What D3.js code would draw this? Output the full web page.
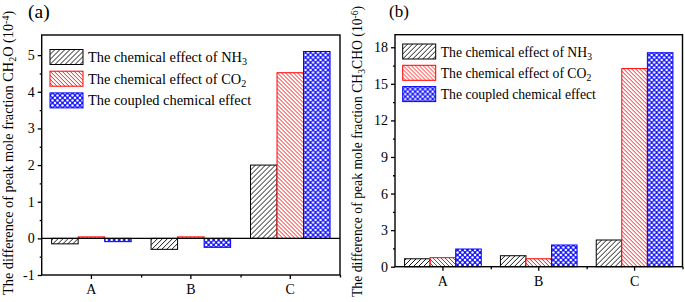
<!DOCTYPE html>
<html>
<head>
<meta charset="utf-8">
<script src="https://cdn.jsdelivr.net/npm/d3@7"></script>
<style>
  body { margin: 0; background: #fff; }
  svg text { font-family: "Liberation Serif", "Times New Roman", "DejaVu Serif", serif; fill: #000; }
  .axis path, .axis line { stroke: #000; stroke-width: 1.3; }
  .axis text { font-size: 14px; }
</style>
</head>
<body>
<div id="chart"></div>
<script>
// data
const categories = ['A', 'B', 'C'];
const seriesNames = ['The chemical effect of NH3', 'The chemical effect of CO2', 'The coupled chemical effect'];

const ch2oNH3 = [-0.15, -0.30, 2.00];
const ch2oCO2 = [0.04, 0.04, 4.52];
const ch2oCoupled = [-0.09, -0.245, 5.10];

const ch3choNH3 = [0.65, 0.90, 2.19];
const ch3choCO2 = [0.74, 0.65, 16.25];
const ch3choCoupled = [1.45, 1.78, 17.55];

const ch2oTicks = [-1, 0, 1, 2, 3, 4, 5];
const ch3choTicks = [0, 3, 6, 9, 12, 15, 18];

const serif = '"Liberation Serif", "Times New Roman", "DejaVu Serif", serif';

const svg = d3.select('#chart').append('svg')
    .attr('width', 685)
    .attr('height', 302)
    .attr('font-family', serif);

// hatch patterns, roughly like the Origin fills
const defs = svg.append('defs');

const pBlack = defs.append('pattern')
    .attr('id', 'hatchBlack')
    .attr('patternUnits', 'userSpaceOnUse')
    .attr('width', 5).attr('height', 5);
pBlack.append('rect').attr('width', 5).attr('height', 5).attr('fill', '#fff');
pBlack.append('path')
    .attr('d', 'M-1,1 L1,-1 M0,5 L5,0 M4,6 L6,4')
    .attr('stroke', '#000').attr('stroke-width', 0.9);

const pRed = defs.append('pattern')
    .attr('id', 'hatchRed')
    .attr('patternUnits', 'userSpaceOnUse')
    .attr('width', 4).attr('height', 4);
pRed.append('rect').attr('width', 4).attr('height', 4).attr('fill', '#fff');
pRed.append('path')
    .attr('d', 'M-1,3 L1,5 M0,0 L4,4 M3,-1 L5,1')
    .attr('stroke', '#ff0000').attr('stroke-width', 0.9);

const pBlue = defs.append('pattern')
    .attr('id', 'hatchBlue')
    .attr('patternUnits', 'userSpaceOnUse')
    .attr('width', 5).attr('height', 5);
pBlue.append('rect').attr('width', 5).attr('height', 5).attr('fill', '#1010ff');
[[0, 0], [5, 0], [0, 5], [5, 5], [2.5, 2.5]].forEach(([cx, cy]) => {
    pBlue.append('circle').attr('cx', cx).attr('cy', cy).attr('r', 1.3).attr('fill', '#fff');
});

const seriesFill = ['url(#hatchBlack)', 'url(#hatchRed)', 'url(#hatchBlue)'];
const seriesStroke = ['#000', '#ff0000', '#0000ff'];

class GroupedBarChart {
    constructor(_config, _data) {
        this.config = {
            left: _config.left,
            right: _config.right,
            top: _config.top,
            bottom: _config.bottom,
            yDomain: _config.yDomain,
            yTicks: _config.yTicks,
            yMinor: _config.yMinor,
            zeroLine: _config.zeroLine || false,
            tag: _config.tag,
            tagPos: _config.tagPos,
            tagFont: _config.tagFont || 18,
            titleParts: _config.titleParts,
            titlePos: _config.titlePos,
            titleFont: _config.titleFont || 14,
            legendPos: _config.legendPos,
            legendStep: _config.legendStep || 21.5,
            legendFont: _config.legendFont || 14
        };
        this.data = _data;
        this.initVis();
        this.renderVis();
    }

    initVis() {
        let vis = this;
        const c = vis.config;

        vis.g = svg.append('g');

        vis.xScale = d3.scaleBand()
            .domain(categories)
            .range([c.left, c.right])
            .padding(0);

        vis.xSub = d3.scaleBand()
            .domain(d3.range(seriesNames.length))
            .range([vis.xScale.bandwidth() * 0.1, vis.xScale.bandwidth() * 0.9]);

        vis.xEdges = d3.scaleLinear()
            .domain([0, categories.length])
            .range([c.left, c.right]);

        vis.yScale = d3.scaleLinear()
            .domain(c.yDomain)
            .range([c.bottom, c.top]);
    }

    renderVis() {
        let vis = this;
        const c = vis.config;

        // bars
        const groups = vis.g.selectAll('.group')
            .data(categories)
            .join('g')
            .attr('class', 'group')
            .attr('transform', d => `translate(${vis.xScale(d)},0)`);

        groups.selectAll('rect')
            .data((d, i) => vis.data.map((s, k) => ({k: k, v: s[i]})))
            .join('rect')
            .attr('x', d => vis.xSub(d.k))
            .attr('width', vis.xSub.bandwidth())
            .attr('y', d => vis.yScale(Math.max(0, d.v)))
            .attr('height', d => Math.abs(vis.yScale(d.v) - vis.yScale(0)))
            .attr('fill', d => seriesFill[d.k])
            .attr('stroke', d => seriesStroke[d.k])
            .attr('stroke-width', 1);

        if (c.zeroLine) {
            vis.g.append('line')
                .attr('x1', c.left).attr('x2', c.right)
                .attr('y1', vis.yScale(0)).attr('y2', vis.yScale(0))
                .attr('stroke', '#000').attr('stroke-width', 1.3);
        }

        // frame
        vis.g.append('rect')
            .attr('x', c.left).attr('y', c.top)
            .attr('width', c.right - c.left).attr('height', c.bottom - c.top)
            .attr('fill', 'none').attr('stroke', '#000').attr('stroke-width', 1.4);

        // y axis, major + minor
        vis.g.append('g')
            .attr('class', 'axis')
            .attr('transform', `translate(${c.left},0)`)
            .call(d3.axisLeft(vis.yScale).tickValues(c.yTicks).tickFormat(d => String(d))
                .tickSize(4).tickPadding(3).tickSizeOuter(0))
            .call(g => g.select('.domain').remove())
            .call(g => g.selectAll('text').attr('font-family', serif));
        vis.g.append('g')
            .attr('class', 'axis')
            .attr('transform', `translate(${c.left},0)`)
            .call(d3.axisLeft(vis.yScale).tickValues(c.yMinor).tickSize(2).tickFormat(''))
            .call(g => g.select('.domain').remove());

        // x axis, major at centres, minor at group edges
        vis.g.append('g')
            .attr('class', 'axis')
            .attr('transform', `translate(0,${c.bottom})`)
            .call(d3.axisBottom(vis.xScale).tickSize(4).tickPadding(5).tickSizeOuter(0))
            .call(g => g.select('.domain').remove())
            .call(g => g.selectAll('text').attr('font-family', serif));
        vis.g.append('g')
            .attr('class', 'axis')
            .attr('transform', `translate(0,${c.bottom})`)
            .call(d3.axisBottom(vis.xEdges).tickValues([1, 2, 3]).tickSize(2.5).tickFormat(''))
            .call(g => g.select('.domain').remove());

        // panel tag
        vis.g.append('text')
            .attr('x', c.tagPos[0]).attr('y', c.tagPos[1])
            .attr('font-family', serif)
            .attr('font-size', c.tagFont)
            .text(c.tag);

        // y title with sub/superscripts
        const title = vis.g.append('text')
            .attr('transform', `translate(${c.titlePos[0]},${c.titlePos[1]}) rotate(-90)`)
            .attr('font-family', serif)
            .attr('font-size', c.titleFont);
        c.titleParts.forEach(p => {
            const t = title.append('tspan').text(p.t);
            if (p.sub) t.attr('baseline-shift', '-25%').attr('font-size', c.titleFont * 0.7);
            if (p.sup) t.attr('baseline-shift', '45%').attr('font-size', c.titleFont * 0.7);
        });

        // legend
        const lg = vis.g.append('g')
            .attr('transform', `translate(${c.legendPos[0]},${c.legendPos[1]})`);
        const rows = lg.selectAll('g')
            .data(seriesNames)
            .join('g')
            .attr('transform', (d, i) => `translate(0,${i * c.legendStep})`);
        rows.append('rect')
            .attr('width', 33).attr('height', 15)
            .attr('fill', (d, i) => seriesFill[i])
            .attr('stroke', (d, i) => seriesStroke[i])
            .attr('stroke-width', 1);
        rows.each(function(d) {
            const t = d3.select(this).append('text')
                .attr('x', 38).attr('y', 12.5)
                .attr('font-family', serif)
                .attr('font-size', c.legendFont);
            const m = d.match(/^(.*?)(\d)$/);
            if (m) {
                t.append('tspan').text(m[1]);
                t.append('tspan').text(m[2]).attr('baseline-shift', '-25%').attr('font-size', c.legendFont * 0.7);
            } else {
                t.text(d);
            }
        });
    }
}

new GroupedBarChart({
    left: 41.7, right: 340, top: 35, bottom: 275,
    yDomain: [-1, 5.55],
    yTicks: ch2oTicks,
    yMinor: [-0.5, 0.5, 1.5, 2.5, 3.5, 4.5],
    zeroLine: true,
    tag: '(a)',
    tagPos: [28, 18],
    tagFont: 19.5,
    titleParts: [{t: 'The difference of peak mole fraction CH'}, {t: '2', sub: true}, {t: 'O (10'}, {t: '-4', sup: true}, {t: ')'}],
    titlePos: [13, 295],
    titleFont: 14.3,
    legendPos: [50, 49.5],
    legendStep: 21.7,
    legendFont: 14.4
}, [ch2oNH3, ch2oCO2, ch2oCoupled]);

new GroupedBarChart({
    left: 395, right: 682.5, top: 34.7, bottom: 266.7,
    yDomain: [0, 19.03],
    yTicks: ch3choTicks,
    yMinor: [1.5, 4.5, 7.5, 10.5, 13.5, 16.5],
    tag: '(b)',
    tagPos: [389, 17],
    tagFont: 17,
    titleParts: [{t: 'The difference of peak mole fraction CH'}, {t: '3', sub: true}, {t: 'CHO (10'}, {t: '-6', sup: true}, {t: ')'}],
    titlePos: [362, 297],
    titleFont: 13.7,
    legendPos: [402.7, 44],
    legendStep: 21.3,
    legendFont: 13.7
}, [ch3choNH3, ch3choCO2, ch3choCoupled]);
</script>
</body>
</html>
